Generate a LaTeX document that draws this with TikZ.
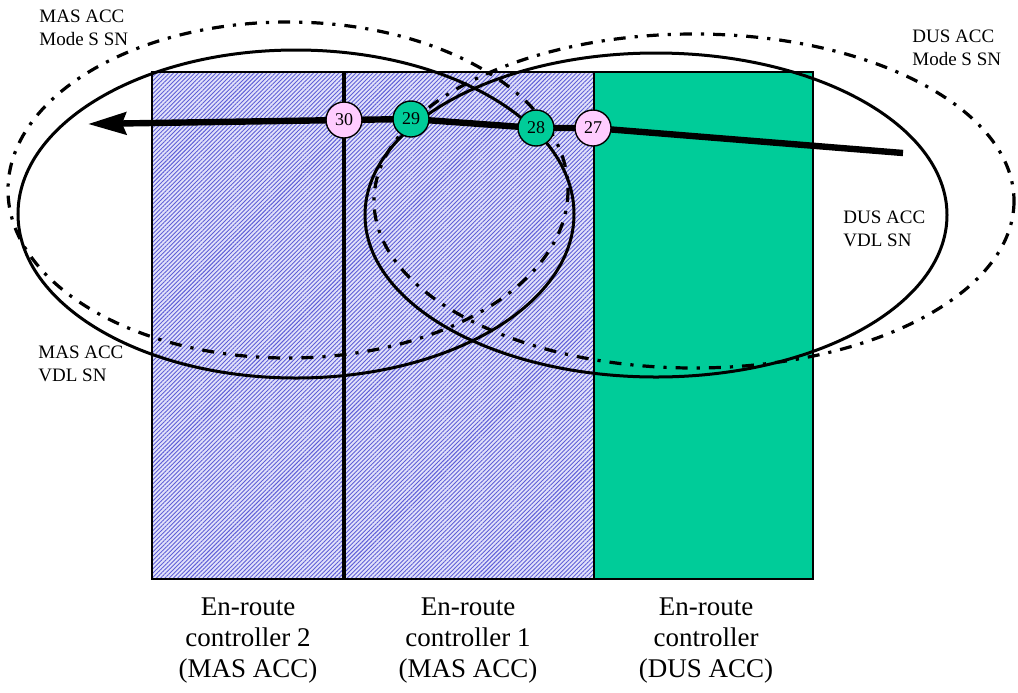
\documentclass[tikz,border=0pt]{standalone}
\usepackage{fontspec}
\setmainfont{Liberation Serif}
\usetikzlibrary{arrows.meta, patterns.meta}

\definecolor{accgreen}{RGB}{0,204,153}
\definecolor{sectorpink}{RGB}{255,204,255}
\definecolor{hatchbg}{RGB}{226,226,250}
\definecolor{hatchline}{RGB}{95,95,215}

\tikzset{
  snvdl/.style={line width=1.5pt},
  snmodes/.style={line width=1.6pt, dash pattern=on 6pt off 4.5pt on 1.6pt off 4.5pt},
  sector/.style={draw, circle, line width=0.7pt, minimum size=18pt, inner sep=0pt, font=\fontsize{9}{9}\selectfont},
  smalllbl/.style={align=left, inner sep=0pt, anchor=west, font=\fontsize{9.5}{11.5}\selectfont},
  ctllbl/.style={align=center, inner sep=0pt, font=\fontsize{13.5}{15.5}\selectfont},
}

\begin{document}
\begin{tikzpicture}[x=0.5pt, y=-0.5pt]
            \useasboundingbox (0,0) rectangle (1018,692);

            \fill[hatchbg] (152,72) rectangle (594,579);
            \fill[pattern={Lines[angle=45,distance=1.5pt,line width=0.45pt]}, pattern color=hatchline] (152,72) rectangle (594,579);
            \fill[accgreen] (594,72) rectangle (813,579);
            \draw[line width=0.6pt] (152,72) rectangle (813,579);
            \draw[line width=1.8pt] (344,72) -- (344,579);
            \draw[line width=0.6pt] (594,72) -- (594,579);

            \draw[snvdl] (296,214) ellipse [x radius=278, y radius=164];
            \draw[snvdl] (656,215) ellipse [x radius=291, y radius=162];
            \draw[snmodes] (288,190) ellipse [x radius=280, y radius=168];
            \draw[snmodes] (694,201) ellipse [x radius=320, y radius=167];

            \coordinate (start) at (903,153);
            \coordinate (p27) at (593,128);
            \coordinate (p28) at (536,128);
            \coordinate (p29) at (411,119);
            \coordinate (p30) at (344,120);
            \coordinate (tip) at (88,124);
            \draw[line width=3.2pt, -{Stealth[length=19pt, width=11pt, inset=2pt]}] (start) -- (p27) -- (p28) -- (p29) -- (p30) -- (tip);

            \node[sector, fill=sectorpink] (n30) at (p30) {30};
            \node[sector, fill=accgreen] (n29) at (p29) {29};
            \node[sector, fill=accgreen] (n28) at (p28) {28};
            \node[sector, fill=sectorpink] (n27) at (p27) {27};

            \node[smalllbl] (masmode) at (39,28) {MAS ACC\\Mode S SN};
            \node[smalllbl] (dusmode) at (912,48) {DUS ACC\\Mode S SN};
            \node[smalllbl] (dusvdl) at (843,229) {DUS ACC\\VDL SN};
            \node[smalllbl] (masvdl) at (38,364) {MAS ACC\\VDL SN};

            \node[ctllbl] (ctl2) at (248,641) {En-route\\controller 2\\(MAS ACC)};
            \node[ctllbl] (ctl1) at (468,641) {En-route\\controller 1\\(MAS ACC)};
            \node[ctllbl] (ctldus) at (706,641) {En-route\\controller\\(DUS ACC)};
\end{tikzpicture}
\end{document}
